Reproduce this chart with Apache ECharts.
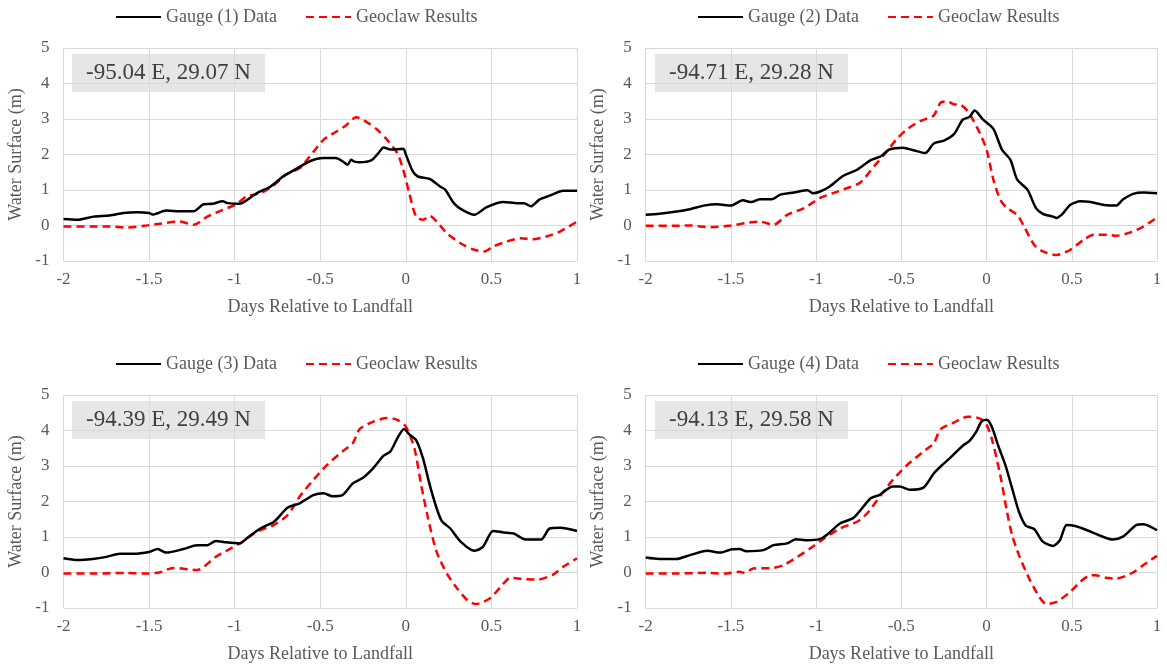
<!DOCTYPE html>
<html>
<head>
<meta charset="utf-8">
<script src="https://cdn.jsdelivr.net/npm/echarts@6/dist/echarts.min.js"></script>
<style>
html,body{margin:0;padding:0;background:#fff;}
#chart{width:1167px;height:666px;}
</style>
</head>
<body>
<div id="chart"></div>
<script>
// ---------- DATA ----------
const xTicks = [-2, -1.5, -1, -0.5, 0, 0.5, 1];
const yTicks = [-1, 0, 1, 2, 3, 4, 5];
const gaugeNames = ['Gauge (1) Data', 'Gauge (2) Data', 'Gauge (3) Data', 'Gauge (4) Data'];
const simName = 'Geoclaw Results';
const locations = ['-95.04 E, 29.07 N', '-94.71 E, 29.28 N', '-94.39 E, 29.49 N', '-94.13 E, 29.58 N'];

// Gauge 1
const g1Days = [-2,-1.92,-1.825,-1.73,-1.65,-1.57,-1.5,-1.48,-1.4,-1.32,-1.24,-1.18,-1.13,-1.07,-1.04,-0.97,-0.94,-0.87,-0.79,-0.71,-0.66,-0.56,-0.48,-0.41,-0.37,-0.34,-0.32,-0.3,-0.27,-0.2,-0.16,-0.13,-0.09,-0.015,0,0.04,0.07,0.14,0.2,0.23,0.28,0.33,0.4,0.47,0.57,0.65,0.69,0.73,0.78,0.84,0.92,1];
const g1Level = [0.18,0.16,0.25,0.28,0.35,0.37,0.35,0.31,0.42,0.4,0.4,0.6,0.61,0.68,0.63,0.61,0.68,0.91,1.1,1.41,1.54,1.81,1.9,1.9,1.81,1.71,1.85,1.8,1.78,1.84,2.04,2.2,2.14,2.16,2.0,1.53,1.38,1.31,1.1,1.01,0.63,0.44,0.3,0.51,0.66,0.63,0.63,0.54,0.73,0.84,0.98,0.98];
const s1Days = [-2,-1.96,-1.825,-1.73,-1.63,-1.53,-1.44,-1.32,-1.24,-1.16,-1.09,-0.99,-0.93,-0.85,-0.78,-0.7,-0.62,-0.56,-0.48,-0.4,-0.35,-0.29,-0.23,-0.17,-0.11,-0.05,-0.015,0.02,0.06,0.1,0.14,0.18,0.24,0.32,0.39,0.46,0.51,0.59,0.67,0.74,0.82,0.9,1];
const s1Level = [-0.03,-0.03,-0.03,-0.03,-0.06,-0.01,0.05,0.11,0.02,0.25,0.4,0.6,0.82,0.91,1.1,1.43,1.62,1.95,2.42,2.66,2.82,3.05,2.92,2.71,2.42,2.04,1.57,0.91,0.25,0.16,0.27,0.11,-0.22,-0.5,-0.67,-0.73,-0.59,-0.45,-0.36,-0.39,-0.31,-0.17,0.11];

// Gauge 2
const g2Days = [-2,-1.92,-1.84,-1.74,-1.66,-1.58,-1.5,-1.43,-1.38,-1.33,-1.26,-1.21,-1.13,-1.05,-1.02,-0.98,-0.92,-0.84,-0.76,-0.68,-0.62,-0.57,-0.49,-0.43,-0.36,-0.31,-0.25,-0.19,-0.14,-0.1,-0.07,-0.02,0.04,0.09,0.14,0.18,0.24,0.29,0.33,0.39,0.41,0.45,0.49,0.55,0.61,0.69,0.76,0.8,0.86,0.92,1];
const g2Level = [0.3,0.33,0.38,0.46,0.56,0.6,0.56,0.71,0.66,0.74,0.74,0.87,0.93,0.99,0.91,0.95,1.1,1.4,1.57,1.84,1.95,2.14,2.19,2.12,2.04,2.31,2.39,2.58,2.98,3.06,3.24,2.98,2.72,2.14,1.85,1.29,1.01,0.49,0.33,0.25,0.21,0.35,0.58,0.68,0.66,0.58,0.56,0.73,0.89,0.93,0.91];
const s2Days = [-2,-1.96,-1.84,-1.74,-1.62,-1.5,-1.41,-1.33,-1.25,-1.17,-1.07,-0.98,-0.9,-0.82,-0.74,-0.66,-0.6,-0.53,-0.47,-0.39,-0.31,-0.27,-0.23,-0.19,-0.16,-0.11,-0.08,-0.04,0,0.04,0.08,0.12,0.18,0.22,0.28,0.33,0.41,0.49,0.57,0.63,0.71,0.76,0.84,0.92,1];
const s2Level = [-0.01,-0.01,-0.01,0,-0.05,0,0.07,0.11,0.02,0.3,0.49,0.77,0.91,1.05,1.21,1.67,2.0,2.42,2.7,2.94,3.1,3.46,3.5,3.41,3.41,3.22,2.98,2.61,2.14,1.29,0.73,0.49,0.3,-0.03,-0.55,-0.73,-0.83,-0.69,-0.4,-0.26,-0.26,-0.29,-0.2,-0.03,0.23];

// Gauge 3
const g3Days = [-2,-1.92,-1.83,-1.75,-1.67,-1.59,-1.5,-1.45,-1.4,-1.3,-1.22,-1.16,-1.11,-1.05,-0.97,-0.93,-0.85,-0.77,-0.69,-0.62,-0.54,-0.48,-0.43,-0.37,-0.31,-0.25,-0.19,-0.13,-0.09,-0.05,-0.01,0.02,0.06,0.1,0.14,0.18,0.21,0.26,0.32,0.4,0.45,0.51,0.57,0.63,0.7,0.79,0.84,0.9,1];
const g3Level = [0.4,0.35,0.38,0.44,0.53,0.53,0.58,0.66,0.56,0.66,0.77,0.77,0.89,0.85,0.82,0.96,1.24,1.43,1.83,1.95,2.18,2.23,2.15,2.18,2.51,2.67,2.94,3.29,3.41,3.78,4.04,3.89,3.73,3.22,2.46,1.81,1.45,1.24,0.87,0.61,0.72,1.17,1.13,1.1,0.93,0.93,1.24,1.26,1.17];
const s3Days = [-2,-1.96,-1.83,-1.63,-1.53,-1.44,-1.36,-1.22,-1.11,-1.03,-0.95,-0.87,-0.77,-0.69,-0.62,-0.54,-0.46,-0.37,-0.31,-0.27,-0.19,-0.11,-0.05,0,0.05,0.09,0.13,0.18,0.24,0.3,0.36,0.41,0.49,0.55,0.61,0.69,0.77,0.86,0.92,1];
const s3Level = [-0.03,-0.03,-0.03,-0.01,-0.03,0,0.13,0.07,0.44,0.66,0.88,1.15,1.34,1.62,2.14,2.61,3.03,3.41,3.64,4.04,4.25,4.35,4.3,4.11,3.5,2.46,1.52,0.58,-0.03,-0.45,-0.78,-0.89,-0.73,-0.43,-0.15,-0.19,-0.2,-0.06,0.16,0.4];

// Gauge 4
const g4Days = [-2,-1.92,-1.82,-1.74,-1.64,-1.56,-1.5,-1.45,-1.41,-1.31,-1.25,-1.17,-1.12,-1.05,-0.98,-0.94,-0.86,-0.78,-0.68,-0.63,-0.55,-0.51,-0.45,-0.37,-0.31,-0.26,-0.2,-0.14,-0.1,-0.06,-0.03,0,0.03,0.07,0.11,0.15,0.19,0.23,0.28,0.33,0.39,0.43,0.47,0.52,0.59,0.66,0.74,0.8,0.88,0.92,1];
const g4Level = [0.42,0.38,0.38,0.49,0.61,0.56,0.65,0.66,0.6,0.63,0.77,0.82,0.94,0.91,0.94,1.05,1.38,1.54,2.09,2.18,2.42,2.42,2.33,2.39,2.79,3.03,3.29,3.57,3.71,3.97,4.25,4.3,4.11,3.55,3.03,2.37,1.71,1.32,1.22,0.87,0.75,0.91,1.34,1.31,1.19,1.05,0.93,1.01,1.34,1.36,1.19];
const s4Days = [-2,-1.96,-1.84,-1.64,-1.54,-1.45,-1.42,-1.37,-1.25,-1.19,-1.11,-1.04,-0.96,-0.86,-0.76,-0.7,-0.62,-0.55,-0.47,-0.37,-0.31,-0.27,-0.19,-0.11,-0.06,-0.01,0.03,0.08,0.12,0.15,0.19,0.25,0.31,0.35,0.41,0.49,0.55,0.61,0.64,0.7,0.76,0.86,0.92,1];
const s4Level = [-0.03,-0.03,-0.03,-0.01,-0.03,0.02,-0.01,0.11,0.13,0.21,0.44,0.66,0.94,1.24,1.43,1.67,2.18,2.61,3.01,3.41,3.64,4.04,4.23,4.39,4.37,4.25,3.78,2.75,1.71,1.05,0.49,-0.17,-0.69,-0.89,-0.83,-0.55,-0.26,-0.08,-0.08,-0.15,-0.17,0,0.21,0.47];

const gaugeDays = [g1Days, g2Days, g3Days, g4Days];
const gaugeLevels = [g1Level, g2Level, g3Level, g4Level];
const simDays = [s1Days, s2Days, s3Days, s4Days];
const simLevels = [s1Level, s2Level, s3Level, s4Level];

// ---------- LAYOUT ----------
const FONT = '"Liberation Serif", "DejaVu Serif", serif';
const TXT = '#595959';
const GRIDC = '#d9d9d9';
const panels = [
  {left: 63.5, top: 48, width: 513.5, height: 213},
  {left: 645.7, top: 48, width: 511.3, height: 213},
  {left: 63.5, top: 395, width: 513.5, height: 213},
  {left: 645.7, top: 395, width: 511.3, height: 213}
];
const legendPos = [
  {left: 110, top: 3}, {left: 692, top: 3}, {left: 110, top: 350}, {left: 692, top: 350}
];

const zip = (xs, ys) => xs.map((x, i) => [x, ys[i]]);

const option = {
  backgroundColor: '#fff',
  animation: false,
  grid: panels.map(p => ({left: p.left, top: p.top, width: p.width, height: p.height, containLabel: false})),
  xAxis: panels.map((p, i) => ({
    gridIndex: i, type: 'value', min: xTicks[0], max: xTicks[xTicks.length - 1], interval: 0.5,
    name: 'Days Relative to Landfall', nameLocation: 'middle', nameGap: 37,
    nameTextStyle: {fontFamily: FONT, fontSize: 18, color: TXT},
    axisLine: {show: true, lineStyle: {color: GRIDC, width: 1}},
    axisTick: {show: false},
    axisLabel: {fontFamily: FONT, fontSize: 17, color: TXT, margin: 10},
    splitLine: {show: true, lineStyle: {color: GRIDC, width: 1}}
  })),
  yAxis: panels.map((p, i) => ({
    gridIndex: i, type: 'value', min: yTicks[0], max: yTicks[yTicks.length - 1], interval: 1,
    name: 'Water Surface (m)', nameLocation: 'middle', nameGap: 38,
    nameTextStyle: {fontFamily: FONT, fontSize: 18, color: TXT},
    axisLine: {show: false},
    axisTick: {show: false},
    axisLabel: {fontFamily: FONT, fontSize: 17, color: TXT, margin: 14},
    splitLine: {show: true, lineStyle: {color: GRIDC, width: 1}}
  })),
  legend: panels.map((p, i) => ({
    left: legendPos[i].left, top: legendPos[i].top,
    data: [gaugeNames[i], simName],
    itemWidth: 45, itemHeight: 14, itemGap: 28,
    selectedMode: false,
    itemStyle: {opacity: 0},
    textStyle: {fontFamily: FONT, fontSize: 18, color: TXT}
  })),
  series: []
};

panels.forEach((p, i) => {
  option.series.push({
    name: gaugeNames[i], type: 'line', xAxisIndex: i, yAxisIndex: i,
    data: zip(gaugeDays[i], gaugeLevels[i]),
    showSymbol: false, symbol: 'none', smooth: 0.25,
    lineStyle: {color: '#000000', width: 2.5},
    itemStyle: {color: 'rgba(0,0,0,0)'}, z: 3
  });
  option.series.push({
    name: simName, type: 'line', xAxisIndex: i, yAxisIndex: i,
    data: zip(simDays[i], simLevels[i]),
    showSymbol: false, symbol: 'none', smooth: 0.25,
    lineStyle: {color: '#ff0000', width: 2.5, type: [8, 5]},
    itemStyle: {color: 'rgba(0,0,0,0)'}, z: 2
  });
});

const boxes = [
  {x: 72, y: 54}, {x: 655, y: 54}, {x: 72, y: 401}, {x: 655, y: 401}
];
option.graphic = boxes.map((b, i) => ({
  type: 'group', left: b.x, top: b.y, z: 10,
  children: [
    {type: 'rect', shape: {x: 0, y: 0, width: 193, height: 38}, style: {fill: '#e7e6e6'}},
    {type: 'text', x: 96.5, y: 19, style: {text: locations[i], font: '23px ' + FONT, fill: '#404040', textAlign: 'center', textVerticalAlign: 'middle'}}
  ]
}));

const chart = echarts.init(document.getElementById('chart'), null, {renderer: 'canvas'});
chart.setOption(option);
</script>
</body>
</html>
